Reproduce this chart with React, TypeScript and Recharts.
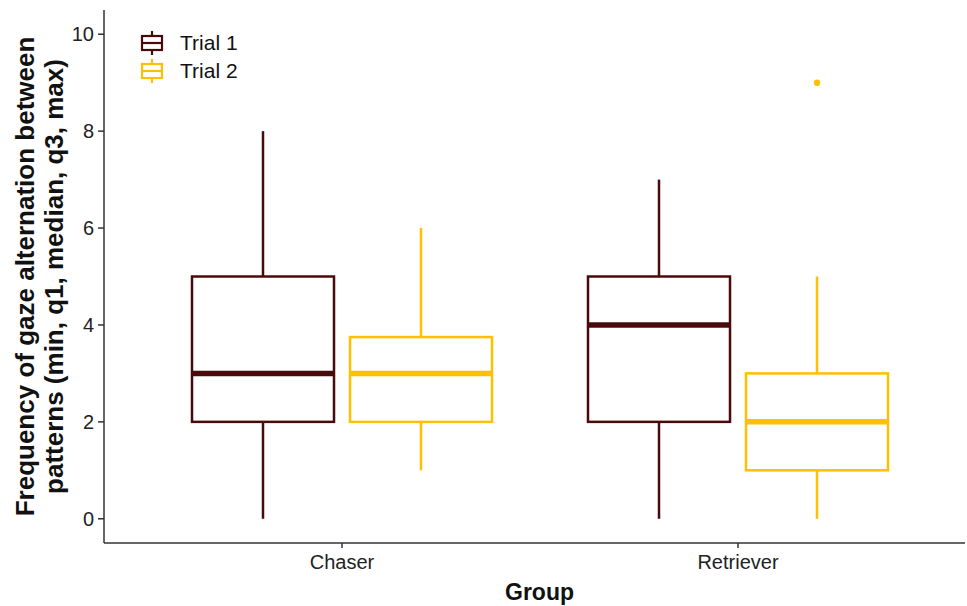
import React from 'react';
import { ComposedChart, Bar, XAxis, YAxis } from 'recharts';

const groups = ['Chaser', 'Retriever'];

const trial1Min = [0, 0];
const trial1Q1 = [2, 2];
const trial1Median = [3, 4];
const trial1Q3 = [5, 5];
const trial1Max = [8, 7];
const trial1Outliers: number[][] = [[], []];

const trial2Min = [1, 0];
const trial2Q1 = [2, 1];
const trial2Median = [3, 2];
const trial2Q3 = [3.75, 3];
const trial2Max = [6, 5];
const trial2Outliers: number[][] = [[], [9]];

const yTicks = [0, 2, 4, 6, 8, 10];

const TRIAL1 = '#4a0a0c';
const TRIAL2 = '#ffc000';
const FONT = '"Liberation Sans", Arial, sans-serif';

type Stats = { min: number; q1: number; median: number; q3: number; max: number; outliers: number[] };

const data = groups.map((g, i) => ({
  group: g,
  t1: { min: trial1Min[i], q1: trial1Q1[i], median: trial1Median[i], q3: trial1Q3[i], max: trial1Max[i], outliers: trial1Outliers[i] } as Stats,
  t2: { min: trial2Min[i], q1: trial2Q1[i], median: trial2Median[i], q3: trial2Q3[i], max: trial2Max[i], outliers: trial2Outliers[i] } as Stats,
}));

const range = (s: Stats) => [Math.min(s.min, ...s.outliers), Math.max(s.max, ...s.outliers)];

const boxShape = (key: 't1' | 't2', color: string) => (props: any) => {
  const { x, y, width, height, payload } = props;
  const s: Stats = payload[key];
  const [lo, hi] = range(s);
  const top = Math.min(y, y + height);
  const h = Math.abs(height);
  const py = (v: number) => top + (h * (hi - v)) / (hi - lo);
  const cx = x + width / 2;
  return (
    <g>
      <line x1={cx} x2={cx} y1={py(s.max)} y2={py(s.q3)} stroke={color} strokeWidth={2.5} />
      <line x1={cx} x2={cx} y1={py(s.q1)} y2={py(s.min)} stroke={color} strokeWidth={2.5} />
      <rect x={x} y={py(s.q3)} width={width} height={py(s.q1) - py(s.q3)} fill="#fff" stroke={color} strokeWidth={2.5} />
      <line x1={x} x2={x + width} y1={py(s.median)} y2={py(s.median)} stroke={color} strokeWidth={5.5} />
      {s.outliers.map((o, i) => (
        <circle key={i} cx={cx} cy={py(o)} r={3.2} fill={color} />
      ))}
    </g>
  );
};

const LegendIcon = ({ color }: { color: string }) => (
  <svg width={24} height={26} style={{ display: 'block' }}>
    <line x1={12} x2={12} y1={1} y2={25} stroke={color} strokeWidth={2.2} />
    <rect x={2} y={6} width={20} height={14} fill="#fff" stroke={color} strokeWidth={2.2} />
    <line x1={2} x2={22} y1={13} y2={13} stroke={color} strokeWidth={2.2} />
  </svg>
);

const YLabel = (props: any) => {
  const { viewBox } = props;
  const cy = viewBox.y + viewBox.height / 2;
  return (
    <g fontFamily={FONT} fontWeight="bold" fontSize={26} fill="#111" textAnchor="middle">
      <text transform={`translate(34, ${cy}) rotate(-90)`}>Frequency of gaze alternation between</text>
      <text transform={`translate(63, ${cy}) rotate(-90)`}>patterns (min, q1, median, q3, max)</text>
    </g>
  );
};

const XLabel = (props: any) => {
  const { viewBox } = props;
  return (
    <text x={viewBox.x + viewBox.width / 2 + 5} y={viewBox.y + 57} textAnchor="middle" fontFamily={FONT} fontWeight="bold" fontSize={23} fill="#111">
      Group
    </text>
  );
};

export default function App() {
  return (
    <div style={{ position: 'absolute', left: 0, top: 0, width: 967, height: 606, background: '#fff' }}>
      <ComposedChart
        width={967}
        height={606}
        data={data}
        margin={{ top: 10, right: 2, bottom: 0, left: 0 }}
        barCategoryGap={48}
        barGap={16}
      >
        <XAxis
          dataKey="group"
          height={63}
          padding={{ left: 40, right: 29 }}
          stroke="#333"
          strokeWidth={1.5}
          tickSize={5}
          tickMargin={7}
          tick={{ fill: '#222', fontSize: 20, fontFamily: FONT }}
          label={<XLabel />}
        />
        <YAxis
          width={104}
          domain={[-0.5, 10.5]}
          ticks={yTicks}
          type="number"
          allowDataOverflow
          stroke="#333"
          strokeWidth={1.5}
          tickSize={6}
          tickMargin={4}
          tick={{ fill: '#222', fontSize: 20, fontFamily: FONT }}
          label={<YLabel />}
        />
        <Bar dataKey={(d: any) => range(d.t1)} name="Trial 1" barSize={142} shape={boxShape('t1', TRIAL1)} isAnimationActive={false} />
        <Bar dataKey={(d: any) => range(d.t2)} name="Trial 2" barSize={142} shape={boxShape('t2', TRIAL2)} isAnimationActive={false} />
      </ComposedChart>
      <div style={{ position: 'absolute', left: 140, top: 29, fontFamily: FONT, fontSize: 21, color: '#111' }}>
        {[['Trial 1', TRIAL1], ['Trial 2', TRIAL2]].map(([label, c]) => (
          <div key={label} style={{ display: 'flex', alignItems: 'center', height: 28 }}>
            <LegendIcon color={c} />
            <span style={{ marginLeft: 16 }}>{label}</span>
          </div>
        ))}
      </div>
    </div>
  );
}
